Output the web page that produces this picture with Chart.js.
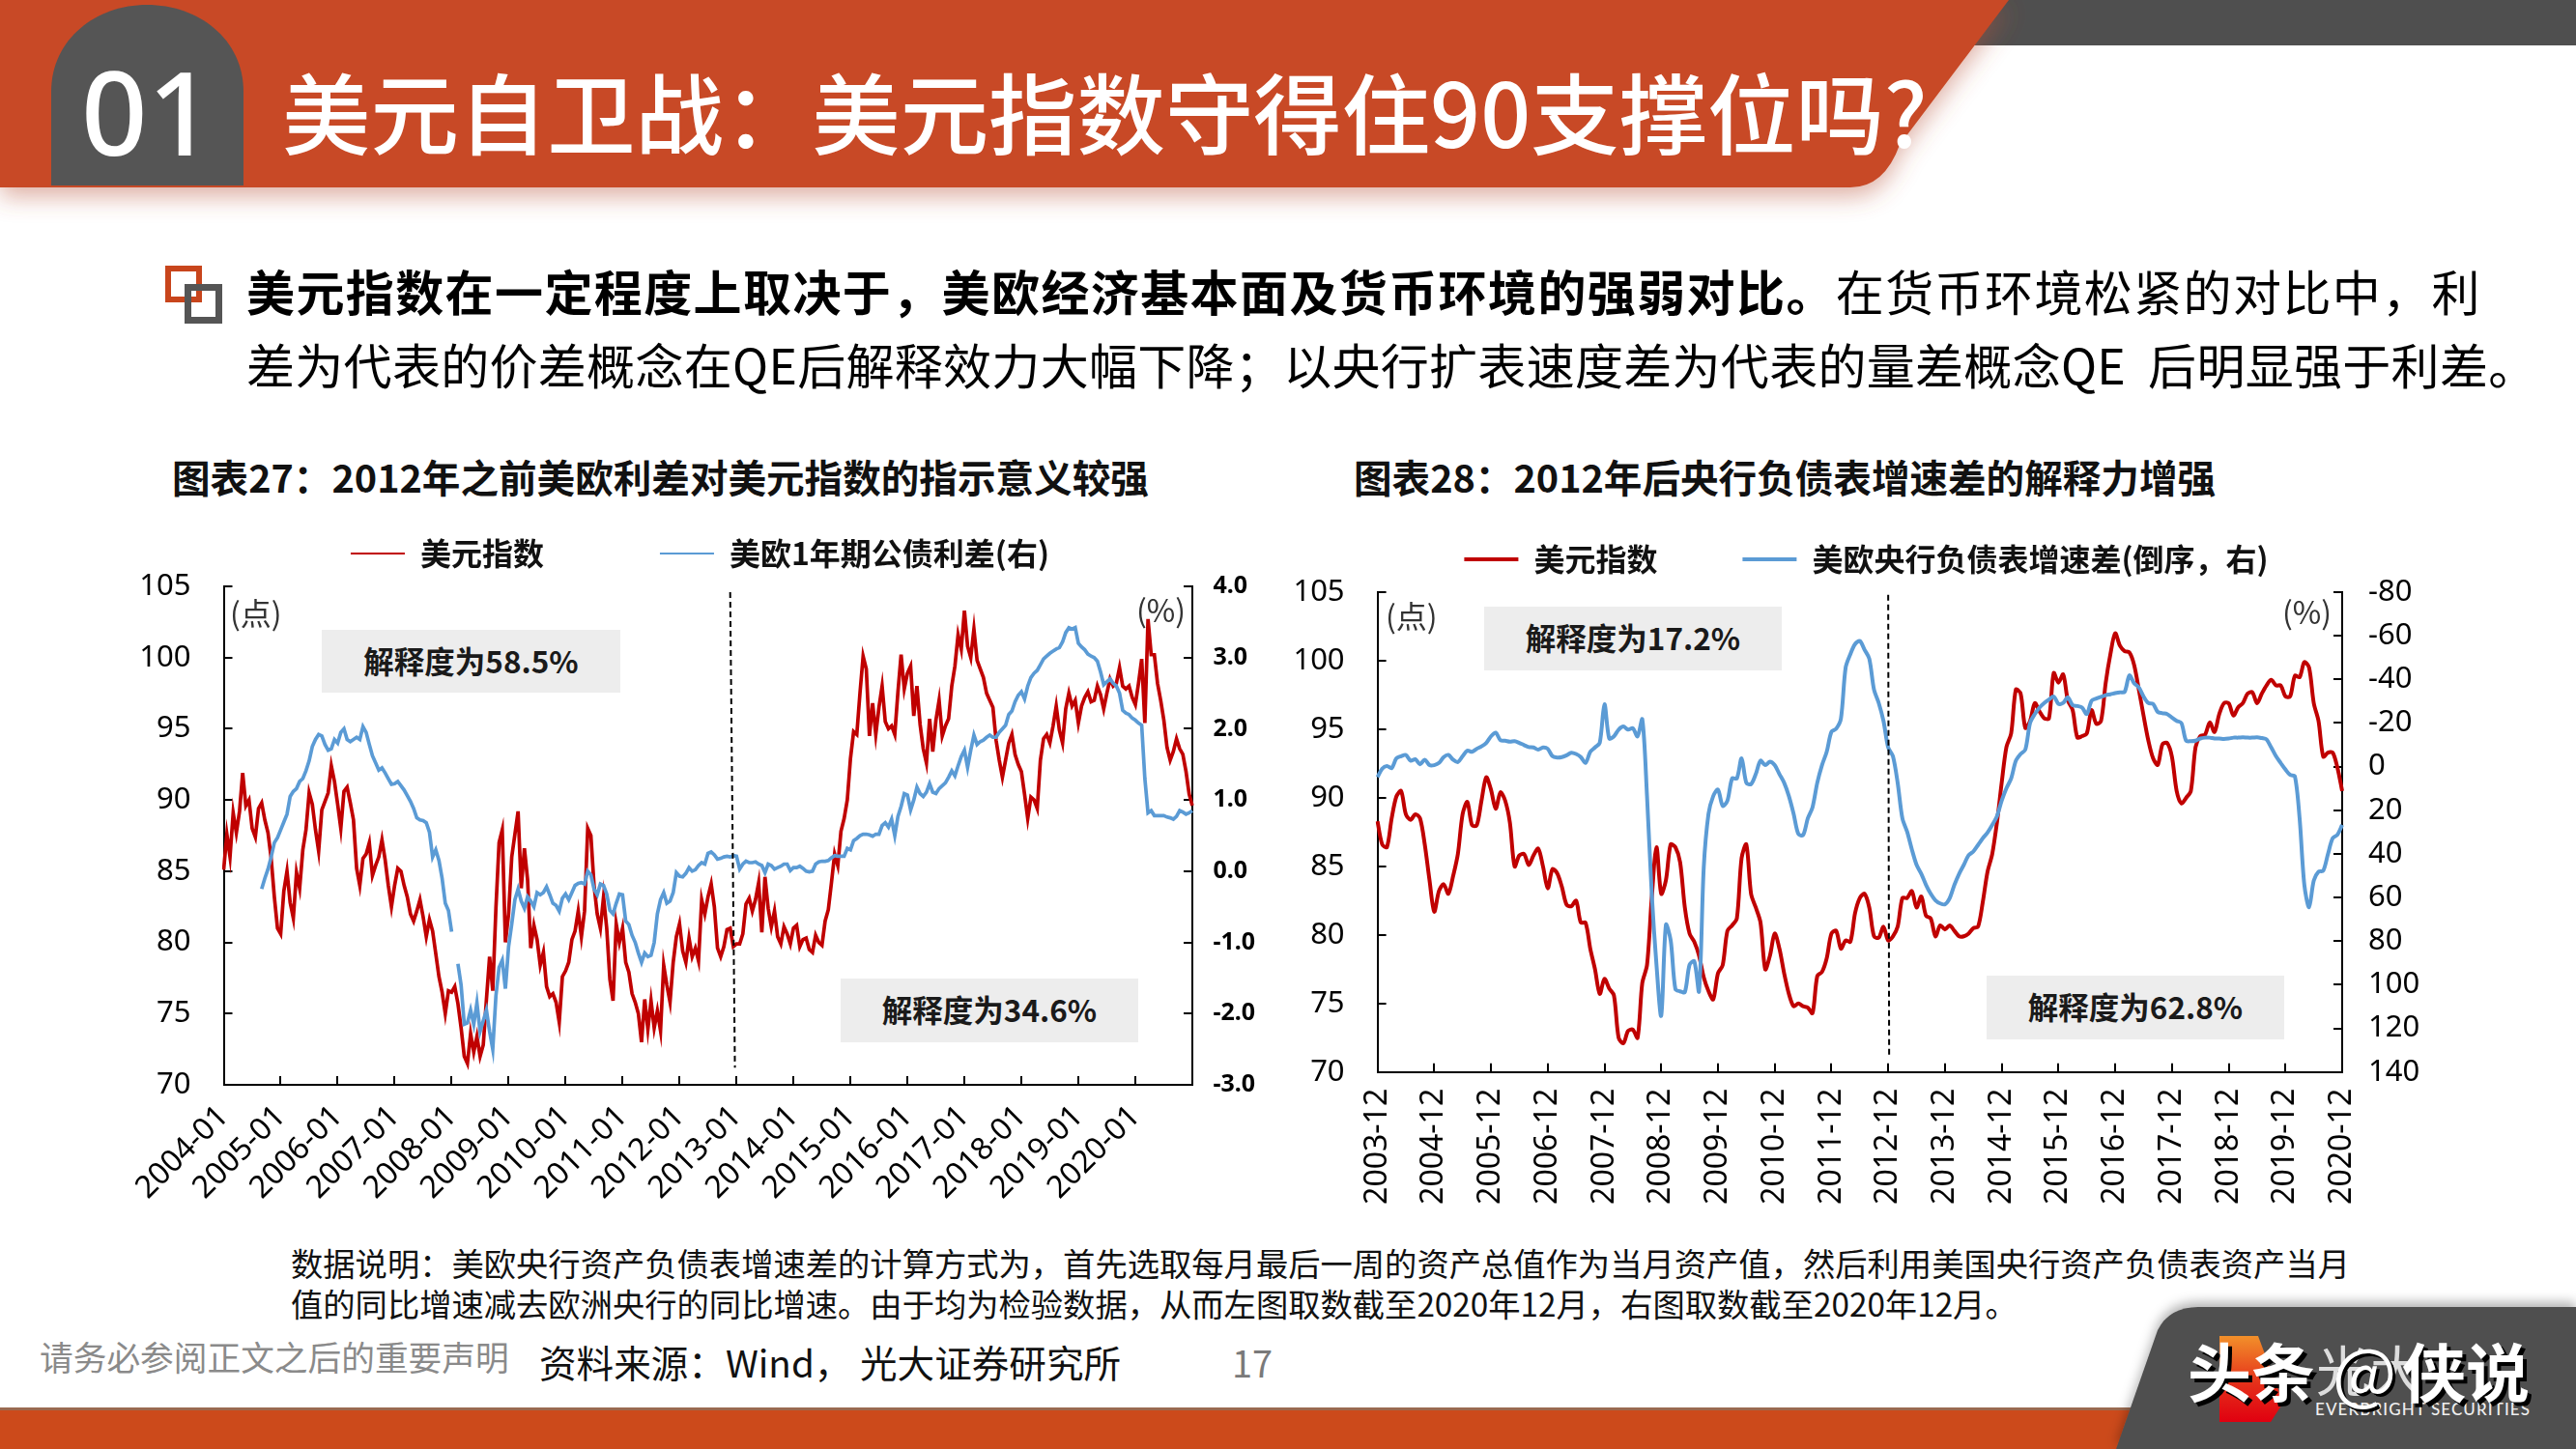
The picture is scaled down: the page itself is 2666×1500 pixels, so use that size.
<!DOCTYPE html>
<html lang="zh"><head><meta charset="utf-8">
<script src="https://cdn.jsdelivr.net/npm/chart.js@4"></script>
<style>
html,body{margin:0;padding:0;background:#fff}
#page{position:relative;width:2666px;height:1500px;overflow:hidden;background:#fff;font-family:"Noto Sans CJK SC","Noto Sans",sans-serif;color:#000}
#page>svg{position:absolute;left:0;top:0}
.t{position:absolute;white-space:nowrap}
canvas{position:absolute}
.box{position:absolute;background:#EDEDED;display:flex;align-items:center;justify-content:center;font-size:31.5px;font-weight:700;color:#1a1a1a;padding-bottom:4px;box-sizing:border-box}
.unit{position:absolute;white-space:nowrap;font-size:32px;line-height:40px;color:#333;transform:translateY(-50%)}
.sq{position:absolute;box-sizing:border-box}
</style></head><body>
<div id="page">
<svg width="2666" height="1500" viewBox="0 0 2666 1500">
<defs>
<filter id="sh" x="-5%" y="-20%" width="110%" height="160%"><feDropShadow dx="0" dy="10" stdDeviation="12" flood-color="#B8543A" flood-opacity=".45"/></filter>
<filter id="sg" x="-10%" y="-20%" width="120%" height="140%"><feDropShadow dx="0" dy="-5" stdDeviation="6" flood-color="#000" flood-opacity=".3"/></filter>
<linearGradient id="mk" x1="0" y1="0" x2="0" y2="1"><stop offset="0" stop-color="#F2902A"/><stop offset=".55" stop-color="#E5301A"/><stop offset="1" stop-color="#E00010"/></linearGradient>
</defs>
<rect x="2040" y="0" width="626" height="47" fill="#4F4F4F"/>
<path d="M0 0H2079L1966 150Q1950 194 1915 194H0Z" fill="#C84825" filter="url(#sh)"/>
<path d="M53 192V95C53 40 100 5 152 5C205 5 252 40 252 95V192Z" fill="#555"/>
<rect x="0" y="1457" width="2666" height="43" fill="#CC4A1B"/>
<rect x="0" y="1457" width="2666" height="3" fill="#9A6A50"/>
<path d="M2190 1500L2233 1377Q2245 1353 2275 1353H2666V1500Z" fill="#505050" filter="url(#sg)"/>
<path d="M2297 1383H2337L2363 1452L2350 1472H2297Z" fill="url(#mk)"/>
</svg>

<div class="t" style="left:84px;top:40px;font:500 120px/150px 'Noto Sans',sans-serif;color:#fff">01</div>
<div class="t" style="left:292px;top:48px;font-size:91.4px;line-height:130px;font-weight:500;color:#fff">美元自卫战&#xFF1A;美元指数守得住90支撑位吗?</div>

<div class="sq" style="left:171px;top:275px;width:38px;height:38px;border:6px solid #C8451C"></div>
<div class="sq" style="left:191px;top:294px;width:39px;height:41px;border:7px solid #555"></div>
<div class="t" style="left:255px;top:265px;font-size:50px;line-height:70px;letter-spacing:1.4px"><b>美元指数在一定程度上取决于&#xFF0C;美欧经济基本面及货币环境的强弱对比。</b>在货币环境松紧的对比中&#xFF0C;利</div>
<div class="t" style="left:255px;top:341px;font-size:50px;line-height:70px;letter-spacing:.3px">差为代表的价差概念在QE后解释效力大幅下降&#xFF1B;以央行扩表速度差为代表的量差概念QE&nbsp; 后明显强于利差。</div>

<div class="t" style="left:178px;top:465px;font-size:39.6px;line-height:56px;font-weight:700;color:#111">图表27&#xFF1A;2012年之前美欧利差对美元指数的指示意义较强</div>
<div class="t" style="left:1401px;top:465px;font-size:39.6px;line-height:56px;font-weight:700;color:#111">图表28&#xFF1A;2012年后央行负债表增速差的解释力增强</div>

<canvas id="c1"></canvas>
<canvas id="c2"></canvas>

<div class="box" style="left:333px;top:652px;width:309px;height:65px">解释度为58.5%</div>
<div class="box" style="left:870px;top:1013px;width:308px;height:66px">解释度为34.6%</div>
<div class="box" style="left:1536px;top:628px;width:308px;height:66px">解释度为17.2%</div>
<div class="box" style="left:2056px;top:1010px;width:308px;height:66px">解释度为62.8%</div>
<div class="unit" style="left:238px;top:633px">(点)</div>
<div class="unit" style="left:1176px;top:630px">(%)</div>
<div class="unit" style="left:1434px;top:636px">(点)</div>
<div class="unit" style="left:2362px;top:632px">(%)</div>

<div class="t" style="left:301px;top:1284px;font-size:33.3px;line-height:46px;color:#111">数据说明&#xFF1A;美欧央行资产负债表增速差的计算方式为&#xFF0C;首先选取每月最后一周的资产总值作为当月资产值&#xFF0C;然后利用美国央行资产负债表资产当月</div>
<div class="t" style="left:301px;top:1326px;font-size:33.3px;line-height:46px;color:#111">值的同比增速减去欧洲央行的同比增速。由于均为检验数据&#xFF0C;从而左图取数截至2020年12月&#xFF0C;右图取数截至2020年12月。</div>
<div class="t" style="left:41px;top:1380px;font-size:34.7px;line-height:48px;color:#8A8A8A">请务必参阅正文之后的重要声明</div>
<div class="t" style="left:558px;top:1384px;font-size:38.6px;line-height:50px;color:#111">资料来源&#xFF1A;Wind&#xFF0C; 光大证券研究所</div>
<div class="t" style="left:1275px;top:1385px;font-size:38px;line-height:50px;color:#7A7A7A">17</div>

<div class="t" style="left:2396px;top:1451px;font:500 17px/16px Lato,sans-serif;letter-spacing:1.1px;color:#eee">EVERBRIGHT SECURITIES</div>
<div class="t" style="left:2397px;top:1380px;font-size:56px;line-height:72px;color:#ddd">光大</div>
<div class="t" style="left:2264px;top:1372px;font-size:66px;line-height:90px;font-weight:700;color:#fff;text-shadow:4px 4px 0 #000">头条</div>
<div class="t" style="left:2414px;top:1372px;font-size:70px;line-height:90px;color:#fff;text-shadow:3px 3px 0 #000">@</div>
<div class="t" style="left:2486px;top:1372px;font-size:66px;line-height:90px;font-weight:700;color:#fff;text-shadow:4px 4px 0 #000">侠说</div>
</div>

<script>
const leftPerYear = 18;
const leftFirstYear = 2004;
const leftYears = 17;
const dxyLeft = [
85.1,87.6,86.0,89.1,87.7,89.2,91.9,89.6,90.0,88.0,87.4,89.4,89.8,88.6,87.7,85.9,83.2,81.0,
80.6,83.6,85.0,82.8,81.7,84.9,83.8,86.5,87.9,90.5,89.7,87.9,86.4,89.3,89.9,90.5,92.4,91.3,
89.7,88.0,90.6,90.9,89.8,88.6,85.2,84.0,85.9,86.2,87.0,84.7,85.4,86.0,87.2,85.8,84.0,82.5,
84.0,85.2,85.0,84.0,83.2,82.0,81.5,82.2,83.0,81.8,80.4,81.6,80.8,79.2,77.6,76.5,75.0,76.6,
76.5,76.9,75.7,74.0,72.0,71.5,73.6,72.3,73.4,72.0,72.8,76.0,79.0,76.6,82.4,87.0,87.9,80.0,
82.0,86.0,87.6,89.2,83.8,86.6,84.4,79.6,81.2,80.2,78.4,79.3,76.9,76.2,76.4,75.8,74.4,77.6,
78.0,78.6,80.2,80.8,82.2,80.4,82.2,88.0,87.5,84.0,82.0,81.0,83.2,81.0,77.4,75.9,81.3,80.0,
81.0,78.6,77.9,76.4,75.8,75.0,73.0,76.0,73.9,75.9,74.0,75.2,73.8,78.4,77.0,75.8,78.6,80.4,
81.3,79.4,78.6,80.3,79.0,79.6,78.7,83.0,82.0,83.2,84.1,82.5,79.6,79.0,79.7,80.9,81.0,79.7,
79.9,79.9,80.6,82.7,83.1,82.2,83.0,84.2,80.7,84.6,82.4,81.1,82.2,80.4,79.9,81.1,80.6,79.9,
81.0,81.2,79.7,80.2,80.3,79.5,79.3,80.5,80.0,79.8,81.5,82.3,84.2,86.2,85.4,87.8,88.7,90.0,
92.9,94.8,94.6,97.5,100.1,99.2,94.5,96.8,94.6,96.5,98.0,95.5,95.0,95.2,94.6,97.6,100.2,97.8,
98.9,99.4,95.9,98.0,95.3,93.6,92.6,95.7,93.4,95.6,97.0,94.5,95.2,95.7,98.0,99.4,101.6,100.6,
103.3,100.8,100.0,102.0,99.8,99.2,98.6,97.5,97.0,96.5,94.2,92.8,91.6,92.8,94.0,94.6,93.2,92.5,
92.0,90.4,88.7,90.2,90.0,89.4,92.8,94.3,94.6,94.0,95.2,96.6,94.9,94.0,96.4,97.5,96.6,97.0,
95.4,96.6,97.2,97.6,96.9,97.0,98.0,97.4,96.4,97.5,98.5,98.0,98.2,99.3,98.0,97.8,98.0,97.2,
96.7,98.2,99.9,95.4,102.7,100.2,100.2,98.2,97.0,95.6,93.7,92.8,93.4,94.3,93.6,93.2,92.0,90.4,
89.6];
const spreadLeft = [
null,null,null,null,null,null,null,null,null,null,null,null,-0.25,-0.10,0.03,0.20,0.40,0.47,
0.58,0.69,0.80,1.05,1.12,1.16,1.26,1.30,1.41,1.55,1.75,1.85,1.92,1.90,1.78,1.70,1.72,1.85,
1.80,1.95,2.00,1.85,1.82,1.85,1.88,1.85,2.03,1.95,1.78,1.62,1.52,1.42,1.45,1.38,1.30,1.22,
1.23,1.26,1.20,1.14,1.06,0.98,0.88,0.75,0.72,0.71,0.68,0.55,0.20,0.30,0.15,-0.10,-0.45,-0.55,
-0.85,null,-1.30,-1.60,-2.15,-2.13,-1.95,-2.15,-1.85,-2.25,-2.10,-1.95,-2.25,-2.50,-1.75,-1.35,-1.25,-1.65,
-1.06,-0.74,-0.40,-0.25,-0.42,-0.52,-0.36,-0.42,-0.50,-0.30,-0.33,-0.30,-0.22,-0.33,-0.45,-0.48,-0.56,-0.38,
-0.32,-0.40,-0.30,-0.20,-0.17,-0.16,-0.18,0.00,-0.05,-0.25,-0.33,-0.18,-0.20,-0.32,-0.55,-0.60,-0.45,-0.32,
-0.33,-0.70,-0.75,-0.90,-1.00,-1.15,-1.28,-1.15,-1.20,-1.18,-1.00,-0.60,-0.40,-0.30,-0.45,-0.42,-0.30,-0.02,
-0.07,-0.08,-0.03,0.05,0.00,0.02,0.08,0.12,0.10,0.25,0.27,0.23,0.17,0.18,0.20,0.21,0.20,0.22,
0.21,0.03,0.10,0.14,0.12,0.12,0.13,0.10,0.08,-0.02,0.10,0.08,0.03,0.05,0.07,0.10,0.10,0.01,
0.05,0.05,0.07,0.04,0.00,-0.01,0.00,0.10,0.13,0.14,0.14,0.15,0.19,0.22,0.21,0.21,0.21,0.32,
0.30,0.43,0.46,0.50,0.52,0.52,0.51,0.49,0.52,0.52,0.64,0.68,0.62,0.73,0.50,0.77,0.91,1.09,
1.07,0.86,1.00,1.18,1.09,1.05,1.11,1.23,1.11,1.09,1.16,1.20,1.24,1.32,1.41,1.34,1.48,1.61,
1.70,1.46,1.70,1.91,1.78,1.82,1.84,1.88,1.91,1.88,1.88,1.95,2.00,2.05,2.20,2.25,2.38,2.47,
2.52,2.42,2.60,2.72,2.78,2.82,2.90,2.98,3.02,3.06,3.09,3.12,3.14,3.22,3.35,3.42,3.40,3.42,
3.20,3.15,3.11,3.05,3.02,3.00,2.95,2.80,2.62,2.66,2.70,2.64,2.60,2.50,2.26,2.22,2.20,2.15,
2.12,2.08,2.05,1.30,0.82,0.85,0.78,0.78,0.78,0.78,0.76,0.75,0.73,0.77,0.85,0.83,0.80,0.82,
0.85];
const dxyRight = [
88.3,86.6,86.4,88.5,90.1,90.5,88.8,88.4,88.8,88.5,86.6,84.0,
81.7,83.2,83.7,83.0,84.3,85.9,88.8,89.7,88.0,88.0,89.8,91.5,
90.6,89.2,90.4,89.8,88.2,85.0,85.8,85.9,85.1,85.8,86.3,85.0,
83.4,84.8,84.5,83.5,82.2,82.1,82.5,80.9,80.9,79.0,77.5,75.7,
76.8,76.1,75.6,72.5,72.1,73.0,73.1,72.5,76.5,77.8,82.7,86.4,
83.0,84.0,86.6,86.4,85.3,82.0,80.1,79.5,78.5,76.9,75.9,75.3,
77.2,77.8,80.3,80.7,81.2,85.6,86.6,83.0,82.0,80.9,77.5,78.5,
80.1,79.0,77.2,75.7,74.8,75.0,74.8,74.7,74.3,77.0,77.3,78.3,
80.1,80.3,79.0,79.6,79.5,81.6,82.7,83.0,82.0,79.9,79.8,80.6,
79.6,79.9,80.6,82.7,82.7,83.2,82.0,82.8,81.4,81.2,79.9,80.7,
80.4,80.7,80.3,79.9,79.9,80.1,80.5,80.6,82.4,84.6,85.9,88.2,
91.1,93.7,94.7,97.9,97.6,95.1,95.6,96.9,96.3,95.8,95.8,99.1,
98.4,99.0,97.1,96.4,94.4,94.5,94.7,96.4,95.4,95.6,98.4,100.5,
102.0,101.1,100.7,100.6,99.7,97.9,96.0,94.2,92.9,92.4,93.9,94.0,
93.0,90.5,89.6,90.0,90.5,93.7,94.5,94.6,95.5,94.8,96.1,96.9,
96.9,96.0,96.6,96.9,97.6,97.7,96.9,97.6,98.2,98.6,98.2,98.2,
97.4,97.4,98.9,98.8,99.9,99.5,96.9,95.6,93.0,93.3,93.3,92.2,
90.5];
const gapRight = [
4.8,0.9,-0.3,0.7,-3.8,-4.8,-5.4,-2.7,-3.4,-1.1,-3.2,-0.7,
-0.7,-1.7,-4.4,-5.4,-3.2,-2.1,-4.8,-7.4,-6.8,-8.2,-9.3,-10.9,
-13.9,-15.6,-12.1,-11.9,-11.5,-11.7,-10.9,-9.9,-9.0,-8.8,-7.8,-8.8,
-8.2,-4.8,-4.2,-4.4,-5.2,-6.4,-5.8,-4.4,-1.7,-6.8,-8.8,-10.9,
-28.6,-12.9,-13.9,-17.0,-18.4,-17.0,-17.6,-13.9,-21.7,13.5,58.3,90.8,
114.2,72.5,79.6,102.0,103.0,103.4,90.8,89.2,103.0,46.0,21.6,13.5,
10.5,18.0,15.6,5.4,5.4,-3.8,7.4,8.0,3.4,-2.7,-0.7,-2.3,
-0.7,3.4,7.4,13.5,21.6,30.8,31.4,23.7,18.6,7.4,-0.7,-6.8,
-16.0,-17.4,-22.0,-45.4,-51.6,-56.2,-57.6,-53.6,-49.5,-35.3,-29.2,-21.0,
-8.8,-4.8,7.4,23.7,29.8,37.9,45.0,49.1,54.2,58.3,61.3,62.7,
63.1,60.3,54.2,49.1,45.0,40.6,38.9,35.9,32.8,30.2,26.7,22.7,
15.6,9.9,5.4,-2.7,-5.8,-7.8,-20.0,-24.1,-27.1,-29.2,-30.8,-32.2,
-28.8,-29.2,-31.8,-28.2,-27.8,-27.1,-24.1,-30.2,-31.2,-32.0,-32.8,-33.2,
-33.7,-34.1,-34.3,-41.8,-38.3,-36.3,-32.2,-29.2,-28.8,-25.1,-24.5,-24.1,
-22.5,-21.0,-20.0,-11.9,-11.7,-11.9,-12.9,-13.3,-13.3,-12.9,-12.9,-12.7,
-12.9,-13.3,-13.3,-13.5,-13.3,-13.3,-13.5,-13.1,-12.5,-8.8,-4.8,-1.7,
1.3,3.8,4.4,23.7,54.2,64.4,52.2,48.1,47.7,40.0,32.8,31.2,
26.7];
const leftDates = [];
for (let i = 0; i < leftYears * leftPerYear + 1; i++) {
  const y = leftFirstYear + Math.floor(i / leftPerYear);
  const m = Math.floor((i % leftPerYear) * 12 / leftPerYear) + 1;
  leftDates.push(y + '-' + String(m).padStart(2, '0'));
}
const rightDates = [];
for (let i = 0; i < dxyRight.length; i++) {
  const t = 2003 * 12 + 11 + i;
  rightDates.push(Math.floor(t / 12) + '-' + String(t % 12 + 1).padStart(2, '0'));
}
const nameDxy = '美元指数';
const nameSpread = '美欧1年期公债利差(右)';
const nameGap = '美欧央行负债表增速差(倒序\uFF0C右)';
const RED = '#C00000', BLUE = '#5B9BD5';
const TICKFONT = '"Noto Sans","Noto Sans CJK SC",sans-serif';
const CJKFONT = '"Noto Sans CJK SC","Noto Sans",sans-serif';

const noPad = s => { s.paddingLeft = s.paddingRight = s.paddingTop = s.paddingBottom = 0; };
const LEGEND_LIFT = 8;
const legendLiftPlugin = {
  id: 'legendLift',
  afterLayout(chart) { chart.legend.top -= LEGEND_LIFT; chart.legend.bottom -= LEGEND_LIFT; }
};
const dividerPlugin = {
  id: 'divider',
  afterDatasetsDraw(chart, _a, o) {
    const {x, y} = chart.scales, c = chart.ctx;
    c.save(); c.strokeStyle = '#000'; c.lineWidth = 2; c.setLineDash([6, 4]);
    c.beginPath();
    c.moveTo(x.getPixelForValue(o.fromIndex), y.getPixelForValue(o.top));
    c.lineTo(x.getPixelForValue(o.toIndex), y.getPixelForValue(o.bottom));
    c.stroke(); c.restore();
  }
};
function make(id, cfg) {
  const TL = 9;
  const axisOpts = (pos, w, extra) => Object.assign({
    position: pos,
    border: {display: true, color: '#000', width: 2},
    grid: {drawOnChartArea: false, color: '#000', lineWidth: 2, tickLength: -TL},
    afterFit(s) { s.width = w; noPad(s); }
  }, extra);
  const el = document.getElementById(id);
  el.style.left = cfg.left + 'px';
  const chart = new Chart(el, {
    type: 'line',
    data: {labels: cfg.labels, datasets: [
      {label: nameDxy, data: cfg.red, yAxisID: 'y', borderColor: RED, backgroundColor: RED, borderWidth: cfg.lw, pointRadius: 0, tension: cfg.tension, order: 1},
      {label: cfg.blueName, data: cfg.blue, yAxisID: 'y1', borderColor: BLUE, backgroundColor: BLUE, borderWidth: cfg.lw, pointRadius: 0, tension: cfg.tension, spanGaps: false, order: 0}
    ]},
    options: {
      responsive: false, maintainAspectRatio: false, animation: false, devicePixelRatio: 1,
      layout: {padding: 0},
      plugins: {
        tooltip: {enabled: false},
        divider: cfg.divider,
        legend: {display: true, position: 'top', labels: {
          usePointStyle: true, pointStyle: 'line', pointStyleWidth: 56, color: '#111', padding: 24,
          font: {family: CJKFONT, size: 32, weight: 'bold'},
          sort: (a, b) => a.datasetIndex - b.datasetIndex,
          generateLabels(ch) {
            const items = Chart.defaults.plugins.legend.labels.generateLabels(ch);
            items.forEach(it => { it.lineWidth = cfg.legendLw; if (it.datasetIndex === 0) it.text += cfg.spacer; });
            return items;
          }
        }}
      },
      scales: {
        x: {
          type: 'category', offset: false,
          border: {display: true, color: '#000', width: 2},
          grid: {drawOnChartArea: false, color: '#000', lineWidth: 2, tickLength: -TL},
          ticks: {autoSkip: false, color: '#000', minRotation: cfg.rot, maxRotation: cfg.rot, padding: cfg.xGap + TL, font: {family: TICKFONT, size: 32}},
          afterBuildTicks(s) { s.ticks = s.ticks.filter(t => t.value % cfg.every === 0 && t.value < cfg.lastTick); },
          afterFit(s) { s.height = 140; noPad(s); }
        },
        y: axisOpts('left', cfg.yW, {min: 70, max: 105, ticks: {color: '#000', padding: 34 + TL, stepSize: 5, font: {family: TICKFONT, size: 31}}}),
        y1: axisOpts('right', cfg.y1W, Object.assign({}, cfg.y1))
      }
    },
    plugins: [dividerPlugin, legendLiftPlugin]
  });
  // place the canvas so the plot area lands where the page wants it
  const W = cfg.width;
  chart.resize(W, 760);
  const dh = (cfg.bottom - cfg.top) - (chart.chartArea.bottom - chart.chartArea.top);
  chart.resize(W, 760 + dh);
  el.style.left = cfg.left + 'px';
  el.style.top = (cfg.top - chart.chartArea.top) + 'px';
  return chart;
}
document.getElementById('c1').width = 1189;
document.getElementById('c2').width = 1213;
document.fonts.ready.then(() => {
make('c1', {
  left: 130, width: 1189, yW: 101.5, y1W: 85, top: 607, bottom: 1123,
  labels: leftDates, red: dxyLeft, blue: spreadLeft, blueName: nameSpread,
  lw: 3.7, legendLw: 2, tension: 0, rot: 45, every: leftPerYear, lastTick: leftYears * leftPerYear, xGap: 14, spacer: '\u3000\u3000\u3000',
  divider: {fromIndex: 160, toIndex: 161.5, top: 104.6, bottom: 71.2},
  y1: {min: -3, max: 4, ticks: {color: '#000', padding: 21.5 + 9, stepSize: 1, callback: v => v.toFixed(1), font: {family: TICKFONT, size: 25, weight: 'bold'}}}
});
make('c2', {
  left: 1325, width: 1213, yW: 100.6, y1W: 114, top: 612.6, bottom: 1109.4,
  labels: rightDates, red: dxyRight, blue: gapRight, blueName: nameGap,
  lw: 4, legendLw: 4, tension: 0.3, rot: 90, every: 12, lastTick: 999, xGap: 17, spacer: '\u3000\u3000',
  divider: {fromIndex: 108, toIndex: 108.2, top: 104.8, bottom: 71.2},
  y1: {min: -80, max: 140, reverse: true, ticks: {color: '#000', padding: 27 + 9, stepSize: 20, font: {family: TICKFONT, size: 31}}}
});
});
</script>
</body></html>
